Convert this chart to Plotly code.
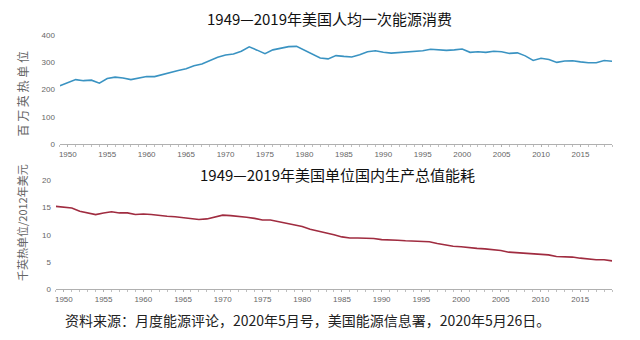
import plotly.graph_objects as go

years = list(range(1949, 2020))

per_capita = [
    214, 226, 237, 233, 235, 224, 241, 246, 243, 237,
    242, 248, 248, 256, 263, 270, 277, 288, 294, 306,
    319, 327, 331, 341, 357, 345, 332, 346, 351, 358,
    359, 344, 331, 316, 313, 325, 322, 320, 328, 339,
    343, 337, 334, 336, 338, 341, 343, 348, 347, 344,
    346, 349, 337, 339, 337, 341, 339, 333, 335, 324,
    307, 315, 311, 300, 305, 306, 302, 299, 299, 307,
    304,
]

intensity = [
    15.2, 15.1, 14.9, 14.3, 14.0, 13.7, 14.0, 14.2, 14.0, 14.0,
    13.7, 13.8, 13.7, 13.5, 13.4, 13.3, 13.1, 12.9, 12.8, 12.9,
    13.2, 13.6, 13.5, 13.4, 13.2, 13.0, 12.7, 12.7, 12.4, 12.1,
    11.8, 11.5, 11.0, 10.7, 10.4, 10.0, 9.6, 9.4, 9.4, 9.4,
    9.3, 9.1, 9.1, 9.0, 8.9, 8.8, 8.7, 8.7, 8.4, 8.1,
    7.9, 7.8, 7.6, 7.5, 7.4, 7.3, 7.1, 6.8, 6.7, 6.6,
    6.5, 6.5, 6.3, 6.0, 6.0, 5.9, 5.7, 5.5, 5.4, 5.4,
    5.2,
]

x_ticks = list(range(1950, 2020, 5))

title_top = "1949—2019年美国人均一次能源消费"
title_bottom = "1949—2019年美国单位国内生产总值能耗"
ytitle_top = "百 万 英 热 单 位"
ytitle_bottom = "千英热单位/2012年美元"
source = "资料来源：月度能源评论，2020年5月号，美国能源信息署，2020年5月26日。"

W, H = 640, 340
def px(x):
    return x / W
def py(y):
    return (H - y) / H

cjk = "Noto Sans CJK SC"
tick_font = dict(family="Liberation Sans, Arial", size=8, color="#666666")

fig = go.Figure()
fig.add_trace(go.Scatter(x=years, y=per_capita, mode="lines",
                         line=dict(color="#3a93c2", width=1.6),
                         xaxis="x", yaxis="y", showlegend=False))
fig.add_trace(go.Scatter(x=years, y=intensity, mode="lines",
                         line=dict(color="#a02c40", width=1.6),
                         xaxis="x2", yaxis="y2", showlegend=False))

axis_common_x = dict(
    range=[1949, 2019], tickmode="array", tickvals=x_ticks,
    showgrid=False, zeroline=False, showline=True, linecolor="#b0b0b0",
    linewidth=1, ticks="outside", ticklen=2, tickcolor="#b0b0b0",
    minor=dict(dtick=1, ticks="outside", ticklen=2, tickcolor="#c0c0c0", showgrid=False),
    tickfont=tick_font, ticklabelstandoff=0,
)
axis_common_y = dict(showgrid=False, zeroline=False, showline=False, ticks="",
                     tickfont=tick_font, ticklabelstandoff=4)

fig.update_layout(
    width=W, height=H,
    margin=dict(l=0, r=0, t=0, b=0),
    paper_bgcolor="white", plot_bgcolor="white",
    xaxis=dict(domain=[px(59), px(612)], anchor="y", **axis_common_x),
    yaxis=dict(domain=[py(144), py(32)], anchor="x", range=[0, 400],
               tickvals=[0, 100, 200, 300, 400], **axis_common_y),
    xaxis2=dict(domain=[px(55), px(612)], anchor="y2", **axis_common_x),
    yaxis2=dict(domain=[py(293), py(181)], anchor="x2", range=[0, 20],
                tickvals=[0, 5, 10, 15, 20], **axis_common_y),
    annotations=[
        dict(text=title_top, x=px(329), y=py(15), xref="paper", yref="paper",
             showarrow=False, font=dict(family=cjk, size=15, color="#111111"),
             xanchor="center", yanchor="middle"),
        dict(text=title_bottom, x=px(337), y=py(175), xref="paper", yref="paper",
             showarrow=False, font=dict(family=cjk, size=15, color="#111111"),
             xanchor="center", yanchor="middle"),
        dict(text=ytitle_top, x=px(22), y=py(92), xref="paper", yref="paper",
             showarrow=False, textangle=-90,
             font=dict(family=cjk, size=12, color="#666666"),
             xanchor="center", yanchor="middle"),
        dict(text=ytitle_bottom, x=px(21), y=py(224), xref="paper", yref="paper",
             showarrow=False, textangle=-90,
             font=dict(family=cjk, size=11, color="#666666"),
             xanchor="center", yanchor="middle"),
        dict(text=source, x=px(62), y=py(325), xref="paper", yref="paper",
             showarrow=False, font=dict(family=cjk, size=14, color="#222222"),
             xanchor="left", yanchor="middle"),
    ],
)

fig.write_html("out.html")
